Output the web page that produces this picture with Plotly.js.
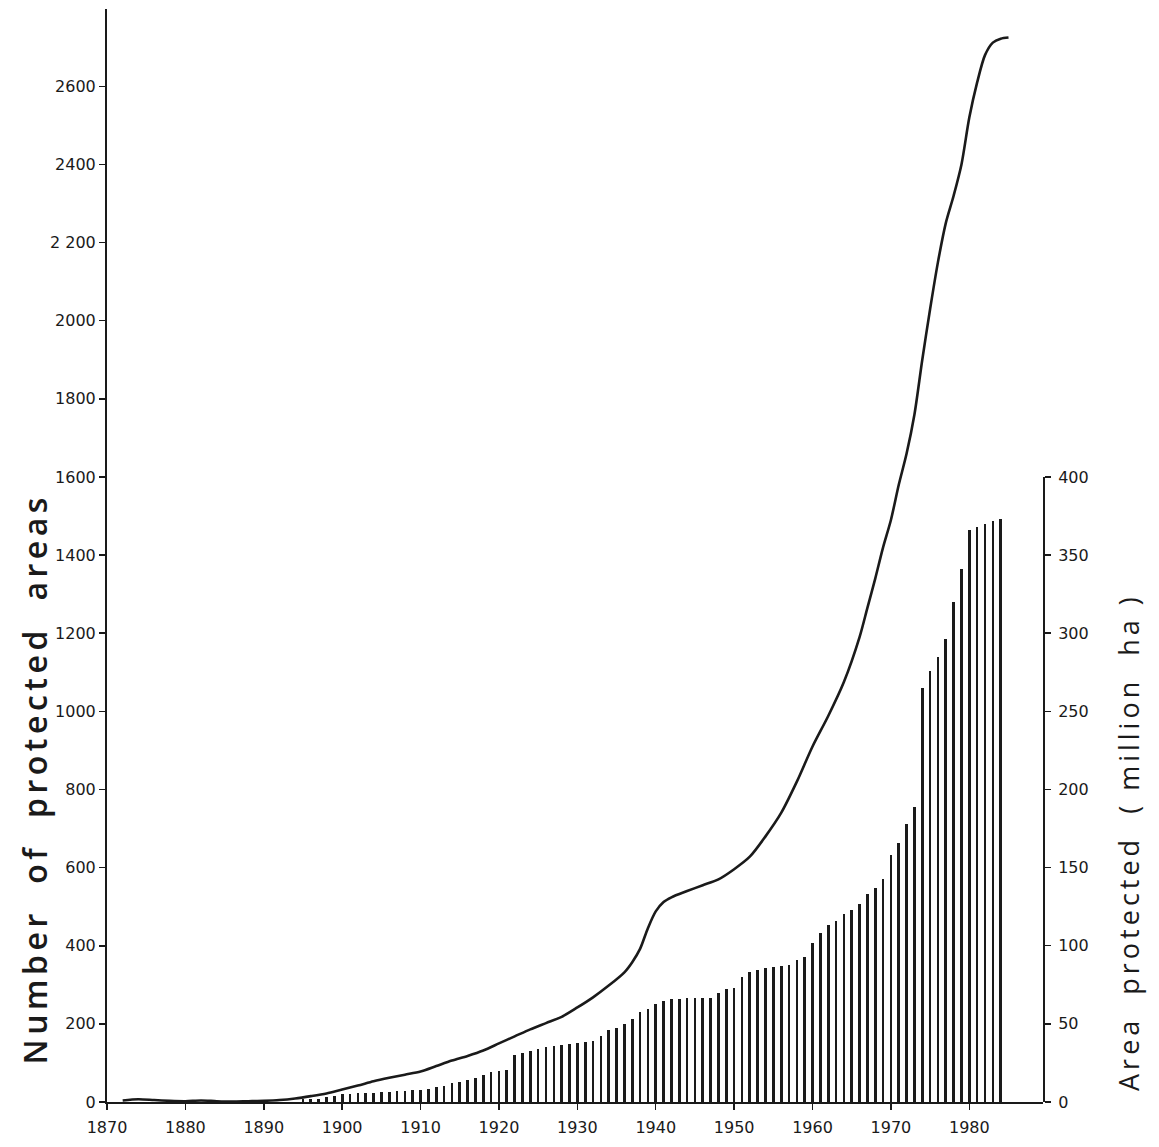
<!DOCTYPE html>
<html>
<head>
<meta charset="utf-8">
<script src="https://cdn.plot.ly/plotly-3.0.1.min.js"></script>
<style>
html,body{margin:0;padding:0;background:#fff;}
#chart{width:1159px;height:1147px;}
g.annotation[data-index="0"] text{letter-spacing:4.5px;}
g.annotation[data-index="1"] text{letter-spacing:4px;}
</style>
</head>
<body>
<div id="chart"></div>
<script>
// Cumulative number of protected areas (left axis)
var curveYears = [1872,1874,1876,1878,1880,1882,1884,1886,1888,1890,
  1892,1894,1896,1898,1900,1902,1904,1906,1908,1910,1912,1914,1916,1918,1920,1922,1924,1926,1928,1930,1932,1934,1936,
  1937,1938,1939,1940,1941,1942,
  1944,1946,1948,1950,1952,1954,1956,1958,1960,1962,1964,1966,
  1967,1968,
  1969,1970,1971,1972,1973,1974,1975,1976,1977,1978,1979,1980,1981,1982,1983,1984,1985];
var curveCounts = [4,7,5,3,2,4,2,1,2,3,
  5,9,15,22,32,42,53,62,70,78,92,106,118,132,150,168,186,202,218,242,268,298,332,
  358,392,445,488,512,524,
  540,555,570,596,628,680,740,820,910,988,1075,1190,
  1265,1340,
  1420,1490,1580,1660,1760,1900,2030,2150,2250,2320,2400,2520,2610,2680,2712,2722,2725];

// Cumulative area protected, million ha (right axis)
var barYears = [];
for (var yr = 1895; yr <= 1984; yr++) barYears.push(yr);
var areaValues = [2,2,2,3,4,
  5,5,5.5,6,6,6.5,6.5,7,7,7.5,
  8,8.5,9.5,10.5,12,12.5,14,15.5,17,19,
  20,20.5,30,31.5,32.5,34,35,36,36.5,37,
  38,38.5,39,42,46,47.5,50,53,57.5,59.5,
  62.5,64.5,66,66,66.5,66.5,66.5,66.5,69.5,72.5,
  73,80,83,84.5,85.5,86.5,87,87.5,91,92.5,
  101.5,108,113,116,120,123,127,133,137,143,
  158,166,178,189,265,276,285,296,320,341,
  366,368,370,372,373];

// Tick labels
var xTickVals = [1870,1880,1890,1900,1910,1920,1930,1940,1950,1960,1970,1980];
var xTickText = ['1870','1880','1890','1900','1910','1920','1930','1940','1950','1960','1970','1980'];
var yTickVals = [0,200,400,600,800,1000,1200,1400,1600,1800,2000,2200,2400,2600];
var yTickText = ['0','200','400','600','800','1000','1200','1400','1600','1800','2000','2 200','2400','2600'];
var y2TickVals = [0,50,100,150,200,250,300,350,400];
var y2TickText = ['0','50','100','150','200','250','300','350','400'];

var ink = '#1a1a1a';
var tickFont = {family: 'DejaVu Sans, sans-serif', size: 16, color: ink};

var traces = [
  {
    type: 'bar',
    x: barYears,
    y: areaValues,
    xaxis: 'x',
    yaxis: 'y2',
    width: 0.34,
    marker: {color: ink, line: {width: 0}},
    hoverinfo: 'x+y'
  },
  {
    type: 'scatter',
    mode: 'lines',
    x: curveYears,
    y: curveCounts,
    xaxis: 'x',
    yaxis: 'y',
    line: {color: ink, width: 2.6, shape: 'spline', smoothing: 0.8},
    hoverinfo: 'x+y'
  }
];

var nb = '\u00A0';
var layout = {
  width: 1159,
  height: 1147,
  margin: {l: 107, r: 116, t: 9, b: 45},
  paper_bgcolor: '#ffffff',
  plot_bgcolor: 'rgba(0,0,0,0)',
  showlegend: false,
  bargap: 0,
  xaxis: {
    range: [1870, 1989.4],
    tickmode: 'array', tickvals: xTickVals, ticktext: xTickText,
    ticks: 'outside', ticklen: 6, tickwidth: 1.5, tickcolor: ink,
    ticklabelstandoff: 4,
    showline: true, linecolor: ink, linewidth: 2,
    showgrid: false, zeroline: false,
    tickfont: tickFont,
    anchor: 'y'
  },
  yaxis: {
    domain: [0, 1],
    range: [0, 2798],
    tickmode: 'array', tickvals: yTickVals, ticktext: yTickText,
    ticks: 'outside', ticklen: 6, tickwidth: 1.5, tickcolor: ink,
    showline: true, linecolor: ink, linewidth: 2,
    showgrid: false, zeroline: false,
    tickfont: tickFont,
    anchor: 'x'
  },
  yaxis2: {
    domain: [0, 1600/2798],
    range: [0, 400],
    side: 'right',
    anchor: 'x',
    tickmode: 'array', tickvals: y2TickVals, ticktext: y2TickText,
    ticks: 'outside', ticklen: 6, tickwidth: 1.5, tickcolor: ink,
    ticklabelstandoff: 4,
    showline: true, linecolor: ink, linewidth: 2,
    showgrid: false, zeroline: false,
    tickfont: tickFont
  },
  annotations: [
    {
      xref: 'paper', yref: 'paper',
      x: -0.077, y: 0.296,
      xanchor: 'center', yanchor: 'middle',
      textangle: -90,
      showarrow: false,
      text: 'Number' + nb+nb + 'of' + nb+nb + 'protected' + nb+nb + 'areas',
      font: {family: 'Open Sans, sans-serif', size: 32, color: ink, weight: 600}
    },
    {
      xref: 'paper', yref: 'paper',
      x: 1.092, y: 0.238,
      xanchor: 'center', yanchor: 'middle',
      textangle: -90,
      showarrow: false,
      text: 'Area' + nb+nb + 'protected' + nb+nb + '(' + nb + 'million' + nb+nb + 'ha' + nb + ')',
      font: {family: 'Open Sans, sans-serif', size: 27, color: ink}
    }
  ]
};

Plotly.newPlot('chart', traces, layout, {displayModeBar: false, staticPlot: true});
</script>
</body>
</html>
